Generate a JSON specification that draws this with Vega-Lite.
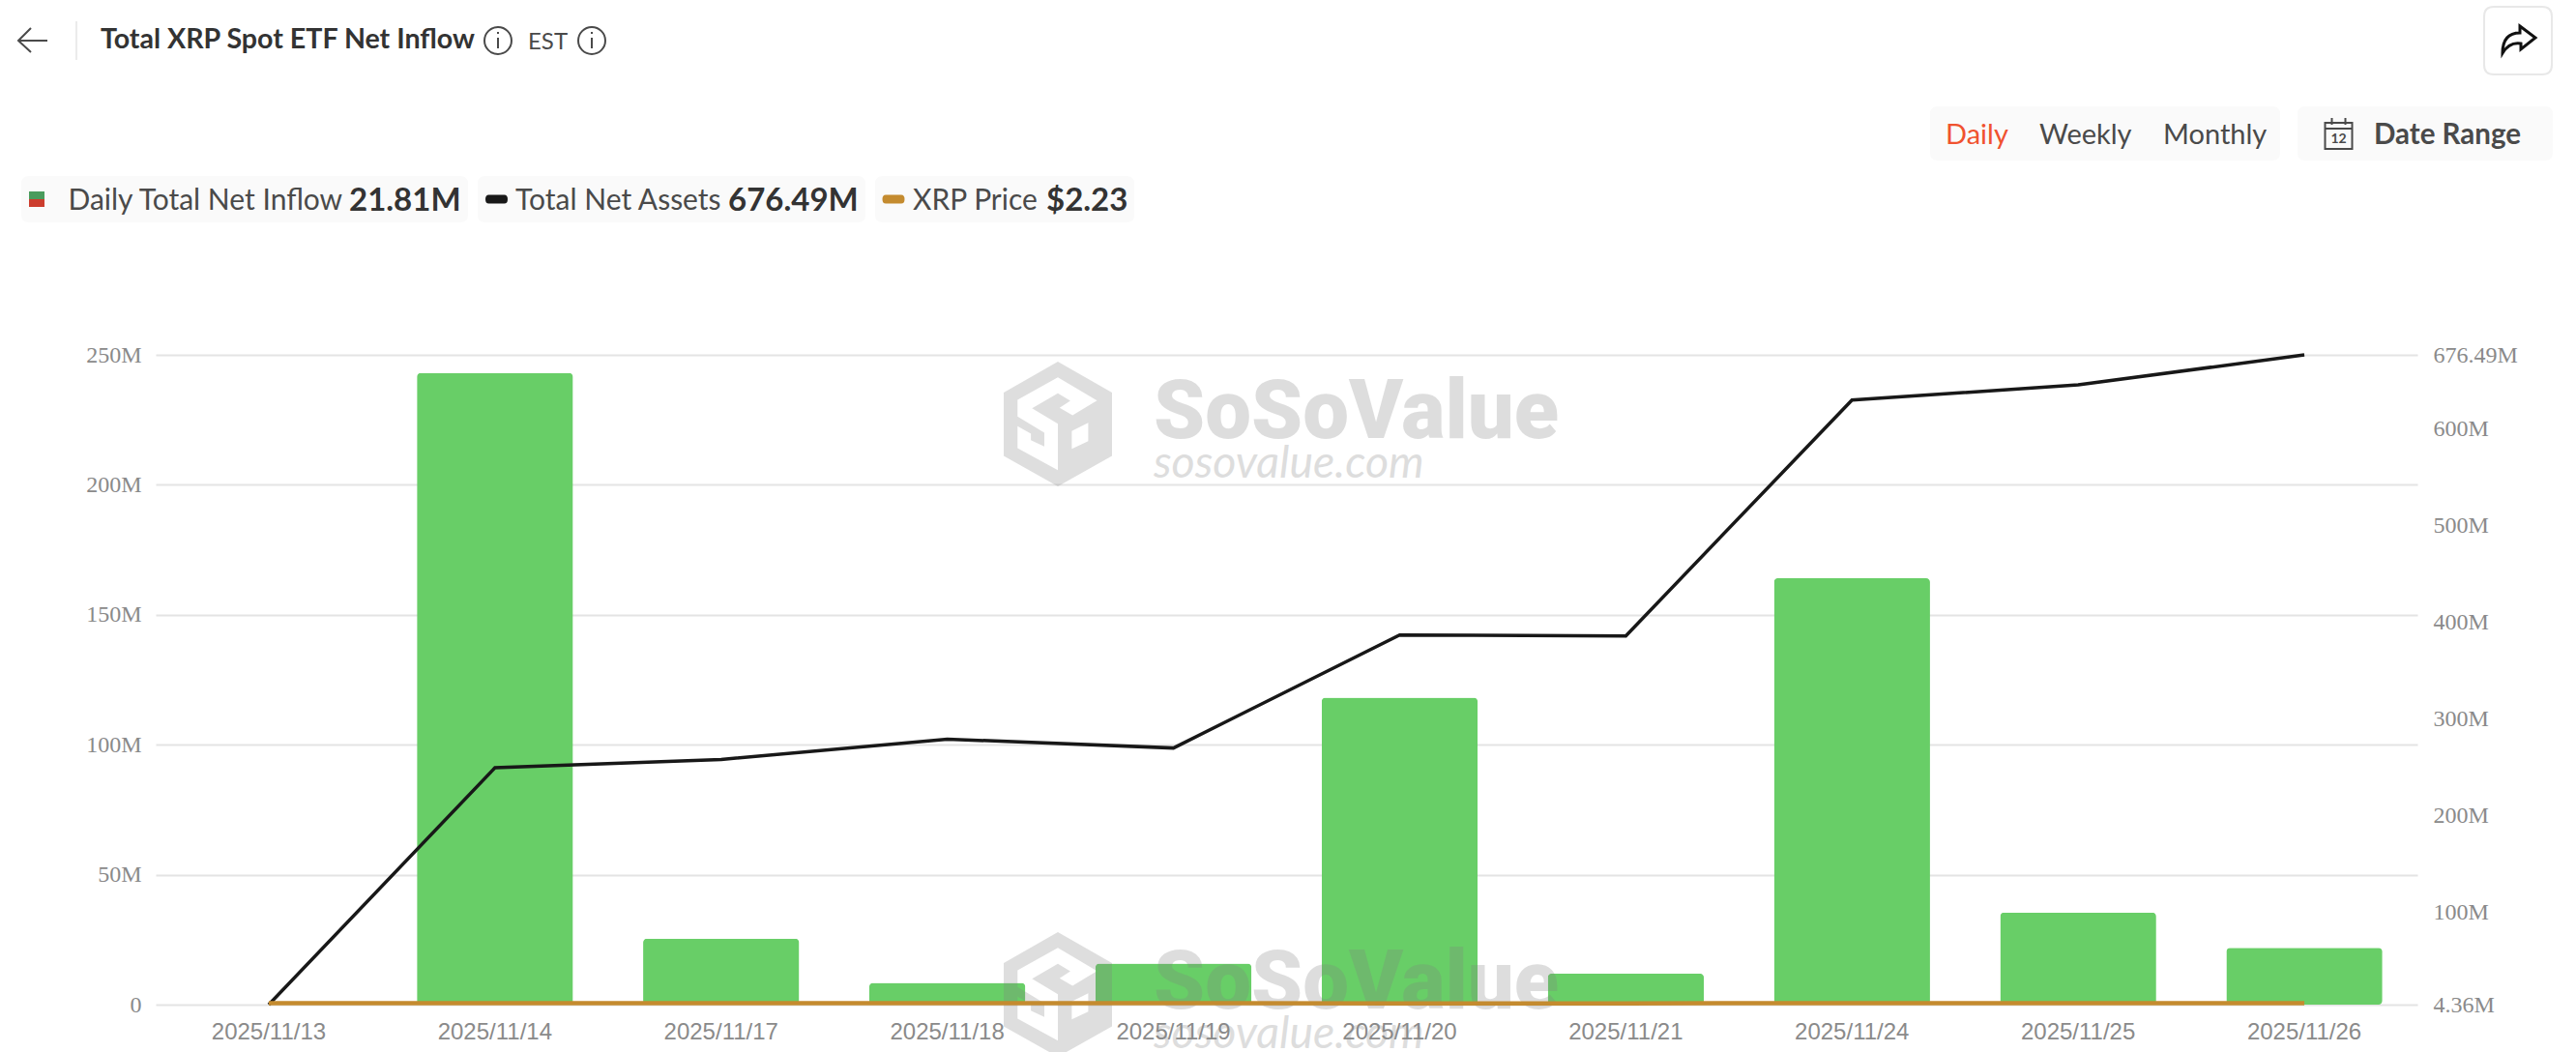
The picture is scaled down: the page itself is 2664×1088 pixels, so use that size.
{
  "$schema": "https://vega.github.io/schema/vega-lite/v6.json",
  "width": 2339,
  "height": 672,
  "autosize": {"type": "none"},
  "padding": {"left": 161, "top": 367, "right": 164, "bottom": 49},
  "background": "white",
  "title": {
    "text": "Total XRP Spot ETF Net Inflow",
    "anchor": "start",
    "frame": "group",
    "dx": -57,
    "dy": 76,
    "offset": 0,
    "baseline": "alphabetic",
    "font": "Lato",
    "fontSize": 28.6,
    "fontWeight": "bold",
    "color": "#333333"
  },
  "datasets": {
    "series": [
      {"date": "2025/11/13", "inflow": null, "assets": 4.36, "price": 2.36},
      {"date": "2025/11/14", "inflow": 243.05, "assets": 249.4, "price": 2.3},
      {"date": "2025/11/17", "inflow": 25.41, "assets": 258, "price": 2.16},
      {"date": "2025/11/18", "inflow": 8.34, "assets": 279, "price": 2.2},
      {"date": "2025/11/19", "inflow": 15.84, "assets": 269.8, "price": 2.1},
      {"date": "2025/11/20", "inflow": 118.11, "assets": 386.8, "price": 2.0},
      {"date": "2025/11/21", "inflow": 11.94, "assets": 385.8, "price": 1.95},
      {"date": "2025/11/24", "inflow": 164.04, "assets": 629.8, "price": 2.3},
      {"date": "2025/11/25", "inflow": 35.41, "assets": 645.4, "price": 2.2},
      {"date": "2025/11/26", "inflow": 21.81, "assets": 676.49, "price": 2.23}
    ],
    "ui": [
      {"kind": "chip", "name": "chipInflow", "col": 4, "row": 3},
      {"kind": "chip", "name": "chipAssets", "col": 11, "row": 3},
      {"kind": "chip", "name": "chipPrice", "col": 15, "row": 3},
      {"kind": "chip", "name": "chipPeriod", "col": 21, "row": 1},
      {"kind": "chip", "name": "chipDate", "col": 25, "row": 1},
      {"kind": "button", "name": "buttonShare", "col": 26, "row": 0},
      {"kind": "swatch", "name": "swatchUp", "col": 1, "row": 3},
      {"kind": "swatch", "name": "swatchDown", "col": 1, "row": 3},
      {"kind": "swatch", "name": "pillAssets", "col": 6, "row": 3},
      {"kind": "swatch", "name": "pillPrice", "col": 13, "row": 3},
      {"kind": "icon", "name": "arrow", "col": 0, "row": 0},
      {"kind": "rule", "name": "separator", "col": 3, "row": 0},
      {"kind": "icon", "name": "info", "col": 7, "row": 0},
      {"kind": "icon", "name": "info", "col": 10, "row": 0},
      {"kind": "icon", "name": "share", "col": 26, "row": 0},
      {"kind": "icon", "name": "calendar", "col": 23, "row": 1},
      {"kind": "logo", "name": "logo", "col": 17, "row": 4},
      {"kind": "logo", "name": "logo", "col": 17, "row": 7},
      {"kind": "brand", "label": "SoSoValue", "col": 18, "row": 5},
      {"kind": "brand", "label": "SoSoValue", "col": 18, "row": 8},
      {"kind": "url", "label": "sosovalue.com", "col": 18, "row": 6},
      {"kind": "url", "label": "sosovalue.com", "col": 18, "row": 9},
      {"kind": "text", "label": "EST", "col": 9, "row": 0},
      {"kind": "text", "label": "Daily Total Net Inflow", "col": 2, "row": 3},
      {"kind": "text", "label": "Total Net Assets", "col": 8, "row": 3},
      {"kind": "text", "label": "XRP Price", "col": 14, "row": 3},
      {"kind": "text", "label": "Daily", "col": 19, "row": 1},
      {"kind": "text", "label": "Weekly", "col": 20, "row": 1},
      {"kind": "text", "label": "Monthly", "col": 22, "row": 1},
      {"kind": "bold", "label": "21.81M", "col": 5, "row": 3},
      {"kind": "bold", "label": "676.49M", "col": 12, "row": 3},
      {"kind": "bold", "label": "$2.23", "col": 16, "row": 3},
      {"kind": "bold", "label": "Date Range", "col": 24, "row": 1},
      {"kind": "number", "label": "12", "col": 23, "row": 2}
    ]
  },
  "layer": [
    {
      "data": {"name": "series"},
      "mark": {"type": "bar", "width": {"band": 0.69}, "cornerRadius": 4, "color": "#68CE67"},
      "encoding": {
        "x": {
          "field": "date",
          "type": "nominal",
          "sort": null,
          "scale": {
            "type": "band",
            "domain": ["2025/11/13", "2025/11/14", "2025/11/17", "2025/11/18", "2025/11/19", "2025/11/20", "2025/11/21", "2025/11/24", "2025/11/25", "2025/11/26"],
            "paddingInner": 0,
            "paddingOuter": 0
          },
          "axis": {
            "title": null,
            "grid": false,
            "domain": false,
            "ticks": false,
            "labelAngle": 0,
            "labelFont": "Liberation Sans",
            "labelFontSize": 24,
            "labelColor": "#8a8a8a",
            "labelPadding": 16,
            "labelOverlap": false,
            "zindex": 1
          }
        },
        "y": {
          "field": "inflow",
          "type": "quantitative",
          "scale": {"domain": [0, 250], "nice": false},
          "axis": {
            "title": null,
            "values": [0, 50, 100, 150, 200, 250],
            "labelExpr": "datum.value === 0 ? '0' : datum.value + 'M'",
            "grid": true,
            "gridColor": "#E4E4E4",
            "gridWidth": 2,
            "domain": false,
            "ticks": false,
            "labelFont": "Liberation Serif",
            "labelFontSize": 24,
            "labelColor": "#8a8a8a",
            "labelPadding": 15
          }
        }
      }
    },
    {
      "data": {"name": "ui"},
      "encoding": {
        "x": {
          "field": "col",
          "type": "quantitative",
          "axis": null,
          "scale": {
            "domain": [0, 1, 2, 3, 4, 5, 6, 7, 8, 9, 10, 11, 12, 13, 14, 15, 16, 17, 18, 19, 20, 21, 22, 23, 24, 25, 26],
            "range": [-127, -123, -90.5, -82, 92, 200, 352.5, 354, 372, 385, 451, 533.5, 592, 763, 783, 878, 921, 933, 1032, 1851, 1948, 2016, 2076, 2257.5, 2294, 2347, 2443],
            "nice": false,
            "zero": false
          }
        },
        "y": {
          "field": "row",
          "type": "quantitative",
          "axis": null,
          "scale": {
            "domain": [0, 1, 2, 3, 4, 5, 6, 7, 8, 9],
            "range": [-325, -229, -223, -161, 71.5, 85.7, 127, 661.5, 675.7, 717],
            "nice": false,
            "zero": false
          }
        }
      },
      "layer": [
        {
          "encoding": {
            "shape": {
              "field": "name",
              "type": "nominal",
              "legend": null,
              "scale": {
                "domain": ["chipInflow", "chipAssets", "chipPrice", "chipPeriod", "chipDate", "buttonShare", "swatchUp", "swatchDown", "pillAssets", "pillPrice", "arrow", "separator", "info", "share", "calendar", "logo"],
                "range": [
                  "M-223,-24 H223 Q231,-24 231,-16 V16 Q231,24 223,24 H-223 Q-231,24 -231,16 V-16 Q-231,-24 -223,-24 Z",
                  "M-192.5,-24 H192.5 Q200.5,-24 200.5,-16 V16 Q200.5,24 192.5,24 H-192.5 Q-200.5,24 -200.5,16 V-16 Q-200.5,-24 -192.5,-24 Z",
                  "M-126,-24 H126 Q134,-24 134,-16 V16 Q134,24 126,24 H-126 Q-134,24 -134,16 V-16 Q-134,-24 -126,-24 Z",
                  "M-173,-28 H173 Q181,-28 181,-20 V20 Q181,28 173,28 H-173 Q-181,28 -181,20 V-20 Q-181,-28 -173,-28 Z",
                  "M-124,-28 H124 Q132,-28 132,-20 V20 Q132,28 124,28 H-124 Q-132,28 -132,20 V-20 Q-132,-28 -124,-28 Z",
                  "M-25,-35 H25 Q35,-35 35,-25 V25 Q35,35 25,35 H-25 Q-35,35 -35,25 V-25 Q-35,-35 -25,-35 Z",
                  "M-8,-8 H8 V0 H-8 Z",
                  "M-8,0 H8 V8 H-8 Z",
                  "M-8,-4.5 H8 Q11.5,-4.5 11.5,0 Q11.5,4.5 8,4.5 H-8 Q-11.5,4.5 -11.5,0 Q-11.5,-4.5 -8,-4.5 Z",
                  "M-8,-4.5 H8 Q11.5,-4.5 11.5,0 Q11.5,4.5 8,4.5 H-8 Q-11.5,4.5 -11.5,0 Q-11.5,-4.5 -8,-4.5 Z",
                  "M15,0 H-15 M-2,-13 L-15,0 L-2,12",
                  "M0,-20 V20",
                  "M-14,0 A14,14 0 1,1 14,0 A14,14 0 1,1 -14,0 Z M0,-3 V8 M0,-9 V-7",
                  "M2,-15 L18,-3 L3,9 L3,3 Q-9,1 -16,13 Q-16,-8 2,-8 Z",
                  "M-14,-11 H14 V16 H-14 Z M-14,-5 H14 M-7,-16 V-9 M7,-16 V-9",
                  "M0,-64.5 L56,-32.5 L56,33 L0,64.5 L-56,33 L-56,-32.5 Z M0,-48.3 L-41.7,-25 L-41.7,-7.7 L-14,9 L-14,23.3 L-27.9,16.7 L-27.9,10 L-41.7,2.3 L-41.7,25 L0,47.7 L0,-0.3 L-26.7,-16.3 L0,-31.7 L12.9,-24 L1.8,-16.7 L15.2,-9 L40.5,-24.3 Z M14.4,7.3 L14.4,25.7 L31.4,17.7 L31.4,-1.3 Z"
                ]
              }
            }
          },
          "layer": [
            {
              "transform": [{"filter": "datum.kind === 'chip'"}],
              "mark": {"type": "point", "size": 4, "filled": true, "fill": "#FAFAFA", "strokeWidth": 0, "opacity": 1}
            },
            {
              "transform": [{"filter": "datum.kind === 'button'"}],
              "mark": {"type": "point", "size": 4, "filled": false, "fill": "white", "stroke": "#E8E8E8", "strokeWidth": 2, "opacity": 1}
            },
            {
              "transform": [{"filter": "datum.kind === 'swatch'"}],
              "mark": {"type": "point", "size": 4, "filled": true, "strokeWidth": 0, "opacity": 1},
              "encoding": {
                "color": {
                  "field": "name",
                  "type": "nominal",
                  "legend": null,
                  "scale": {
                    "domain": ["swatchUp", "swatchDown", "pillAssets", "pillPrice"],
                    "range": ["#4A9C5D", "#CC3D2E", "#181818", "#C48B2F"]
                  }
                }
              }
            },
            {
              "transform": [{"filter": "datum.kind === 'rule'"}],
              "mark": {"type": "point", "size": 4, "filled": false, "stroke": "#E5E5E5", "strokeWidth": 1.5, "opacity": 1}
            },
            {
              "transform": [{"filter": "datum.kind === 'icon' && datum.name !== 'share'"}],
              "mark": {"type": "point", "size": 4, "filled": false, "stroke": "#4A4A4A", "strokeWidth": 2, "opacity": 1}
            },
            {
              "transform": [{"filter": "datum.name === 'share'"}],
              "mark": {"type": "point", "size": 4, "filled": false, "stroke": "#111111", "strokeWidth": 3, "opacity": 1}
            },
            {
              "transform": [{"filter": "datum.kind === 'logo'"}],
              "mark": {"type": "point", "size": 4, "filled": true, "fill": "#808080", "strokeWidth": 0, "opacity": 0.26}
            }
          ]
        },
        {
          "transform": [{"filter": "datum.kind === 'brand'"}],
          "mark": {"type": "text", "align": "left", "baseline": "alphabetic", "font": "Roboto", "fontWeight": 900, "fontSize": 85, "color": "#808080", "opacity": 0.26},
          "encoding": {"text": {"field": "label"}}
        },
        {
          "transform": [{"filter": "datum.kind === 'url'"}],
          "mark": {"type": "text", "align": "left", "baseline": "alphabetic", "font": "Lato", "fontStyle": "italic", "fontSize": 46.5, "color": "#808080", "opacity": 0.26},
          "encoding": {"text": {"field": "label"}}
        },
        {
          "transform": [{"filter": "datum.kind === 'text'"}],
          "mark": {"type": "text", "align": "left", "baseline": "middle", "dy": 1.5, "font": "Lato"},
          "encoding": {
            "text": {"field": "label"},
            "size": {
              "condition": [
                {"test": "datum.label === 'EST'", "value": 24},
                {"test": "datum.label === 'Daily' || datum.label === 'Weekly' || datum.label === 'Monthly'", "value": 29}
              ],
              "value": 30
            },
            "color": {"condition": {"test": "datum.label === 'Daily'", "value": "#F0522F"}, "value": "#4A4A4A"}
          }
        },
        {
          "transform": [{"filter": "datum.kind === 'bold'"}],
          "mark": {"type": "text", "align": "left", "baseline": "middle", "dy": 1.5, "font": "Lato", "fontWeight": "bold"},
          "encoding": {
            "text": {"field": "label"},
            "size": {"condition": {"test": "datum.label === 'Date Range'", "value": 29.5}, "value": 33},
            "color": {"condition": {"test": "datum.label === 'Date Range'", "value": "#4A4A4A"}, "value": "#333333"}
          }
        },
        {
          "transform": [{"filter": "datum.kind === 'number'"}],
          "mark": {"type": "text", "align": "center", "baseline": "middle", "font": "Lato", "fontWeight": "bold", "fontSize": 14, "color": "#4A4A4A"},
          "encoding": {"text": {"field": "label"}}
        }
      ]
    },
    {
      "data": {"name": "series"},
      "mark": {"type": "line", "color": "#181818", "strokeWidth": 3.5},
      "encoding": {
        "x": {"field": "date", "type": "nominal", "sort": null, "axis": null, "scale": {"type": "band", "paddingInner": 0, "paddingOuter": 0}},
        "y": {
          "field": "assets",
          "type": "quantitative",
          "scale": {"domain": [4.36, 676.49], "nice": false, "zero": false},
          "axis": {
            "title": null,
            "orient": "right",
            "values": [4.36, 100, 200, 300, 400, 500, 600, 676.49],
            "labelExpr": "datum.value + 'M'",
            "grid": false,
            "domain": false,
            "ticks": false,
            "labelFont": "Liberation Serif",
            "labelFontSize": 24,
            "labelColor": "#8a8a8a",
            "labelPadding": 16
          }
        }
      }
    },
    {
      "data": {"name": "series"},
      "mark": {"type": "line", "color": "#C48B2F", "strokeWidth": 4.5},
      "encoding": {
        "x": {"field": "date", "type": "nominal", "sort": null, "axis": null, "scale": {"type": "band", "paddingInner": 0, "paddingOuter": 0}},
        "y": {
          "field": "price",
          "type": "quantitative",
          "axis": null,
          "scale": {"domain": [0, 1000], "nice": false}
        }
      }
    }
  ],
  "resolve": {"scale": {"x": "independent", "y": "independent"}},
  "config": {"view": {"stroke": null}}
}
